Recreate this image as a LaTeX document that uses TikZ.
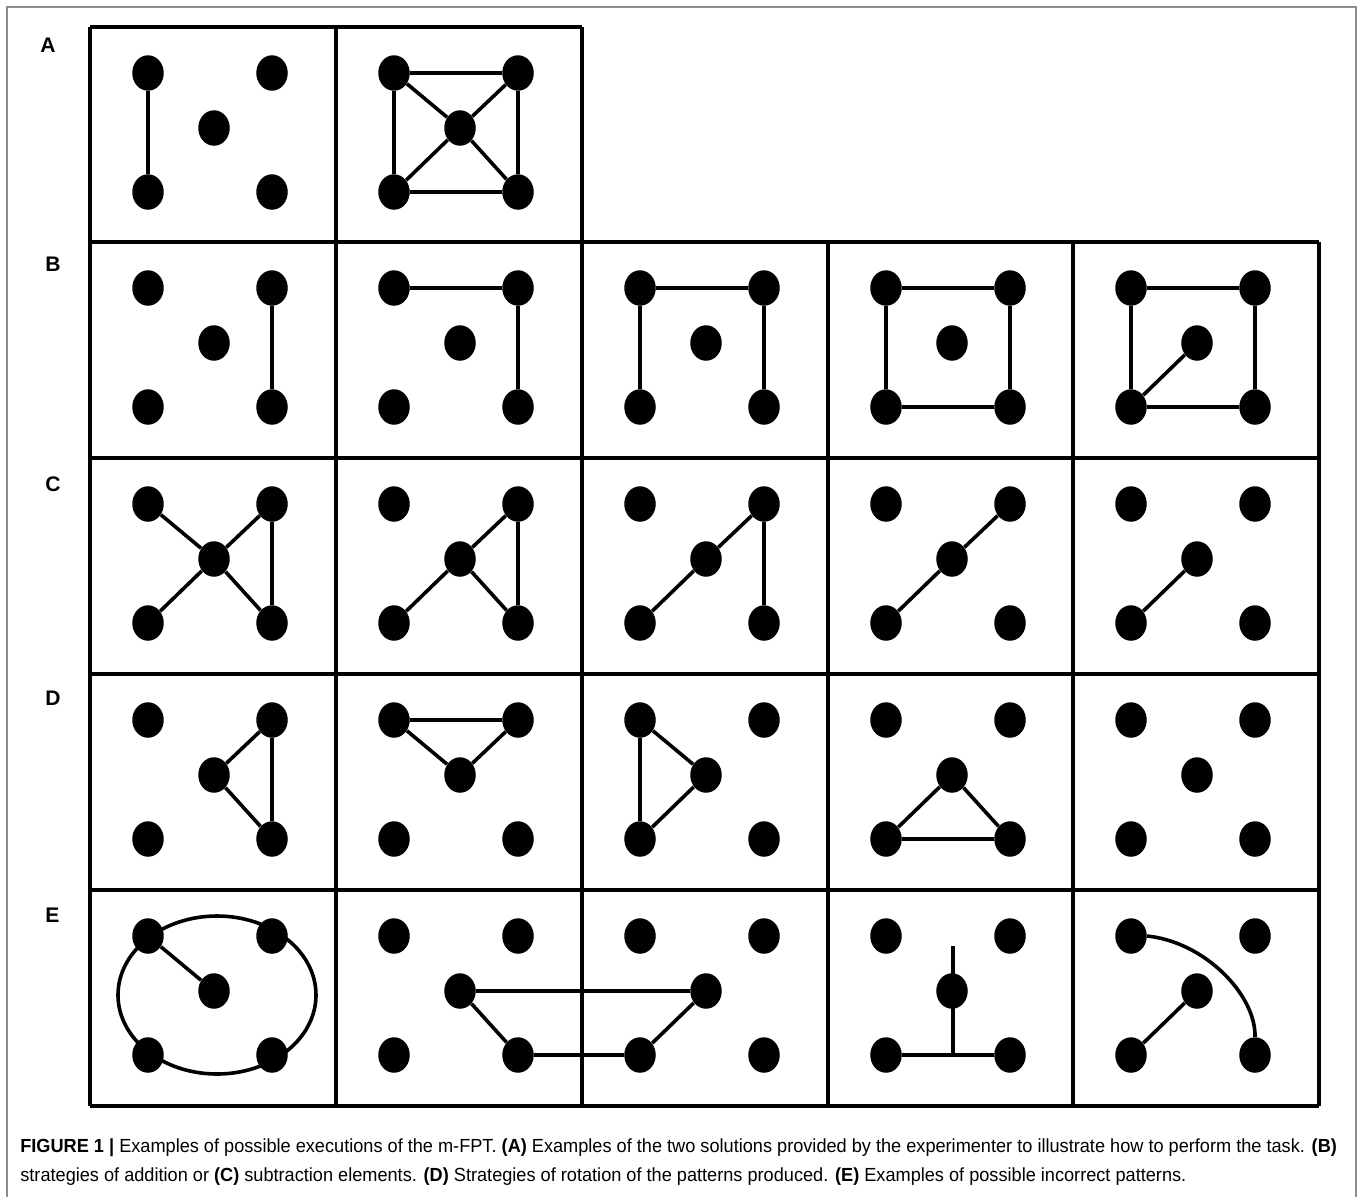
\documentclass[tikz,border=0pt]{standalone}
\usepackage{fontspec}
\setmainfont{Liberation Sans}
\usepackage{graphicx}
\usetikzlibrary{shapes.geometric}
\newsavebox\capbox
\newlength\caplen
\newcommand\capfont{\fontsize{10.8pt}{13pt}\selectfont}
\newcommand\mkcell[3]{%
  \node[dot] (#1tl) at (#2+58,#3+46) {};
  \node[dot] (#1tr) at (#2+182,#3+46) {};
  \node[dot] (#1c)  at (#2+124,#3+101) {};
  \node[dot] (#1bl) at (#2+58,#3+165) {};
  \node[dot] (#1br) at (#2+182,#3+165) {};
}
\begin{document}
\sbox\capbox{\capfont\textbf{FIGURE 1 |} Examples of possible executions of the m-FPT. \textbf{(A)} Examples of the two solutions provided by the experimenter to illustrate how to perform the task. \textbf{(B)}}%
\setlength\caplen{\wd\capbox}%
\pgfmathsetmacro\capsc{749.35/\caplen}%
\begin{tikzpicture}[x=0.02cm,y=-0.02cm,
  dot/.style={ellipse,fill=black,draw=none,inner sep=0pt,minimum width=0.63cm,minimum height=0.71cm},
  grid/.style={line width=0.07cm,black},
  link/.style={line width=0.072cm,black},
  frame/.style={line width=0.04cm,black!45},
  lab/.style={anchor=base west,inner sep=0pt,font=\fontsize{12pt}{14pt}\selectfont\bfseries}]
\useasboundingbox (0,0) rectangle (1358,1197);
% outer frame
\draw[frame] (7,1197) -- (7,7) -- (1356,7) -- (1356,1197);
% grid
\draw[grid] (90,27) -- (582,27);
\foreach \y in {242,458,674,890,1106} \draw[grid] (90,\y) -- (1319,\y);
\foreach \x in {90,336,582} \draw[grid] (\x,27) -- (\x,1106);
\foreach \x in {828,1073,1319} \draw[grid] (\x,242) -- (\x,1106);
% labels
\node[lab] (lA) at (40,52) {A};
\node[lab] (lB) at (45,271) {B};
\node[lab] (lC) at (45,491) {C};
\node[lab] (lD) at (45,705) {D};
\node[lab] (lE) at (45,922) {E};
% dots
\mkcell{A1}{90}{27}
\mkcell{A2}{336}{27}
\foreach \r/\y in {B/242,C/458,D/674,E/890}{
  \foreach \c/\x in {1/90,2/336,3/582,4/828,5/1073}{
    \mkcell{\r\c}{\x}{\y}
  }
}
% row A
\draw[link] (A1tl) -- (A1bl);
\draw[link] (A2tl) -- (A2tr) (A2tl) -- (A2bl) (A2tr) -- (A2br) (A2bl) -- (A2br)
  (A2tl) -- (A2c) -- (A2br) (A2bl) -- (A2c) -- (A2tr);
% row B
\draw[link] (B1tr) -- (B1br);
\draw[link] (B2tl) -- (B2tr) (B2tr) -- (B2br);
\draw[link] (B3tl) -- (B3tr) (B3tl) -- (B3bl) (B3tr) -- (B3br);
\draw[link] (B4tl) -- (B4tr) (B4tr) -- (B4br) (B4br) -- (B4bl) (B4bl) -- (B4tl);
\draw[link] (B5tl) -- (B5tr) (B5tr) -- (B5br) (B5br) -- (B5bl) (B5bl) -- (B5tl) (B5bl) -- (B5c);
% row C
\draw[link] (C1tl) -- (C1c) -- (C1br) (C1bl) -- (C1c) -- (C1tr) (C1tr) -- (C1br);
\draw[link] (C2bl) -- (C2c) -- (C2tr) (C2tr) -- (C2br) (C2c) -- (C2br);
\draw[link] (C3bl) -- (C3c) -- (C3tr) (C3tr) -- (C3br);
\draw[link] (C4bl) -- (C4c) -- (C4tr);
\draw[link] (C5bl) -- (C5c);
% row D
\draw[link] (D1c) -- (D1tr) (D1tr) -- (D1br) (D1br) -- (D1c);
\draw[link] (D2tl) -- (D2tr) (D2tl) -- (D2c) (D2c) -- (D2tr);
\draw[link] (D3tl) -- (D3bl) (D3tl) -- (D3c) (D3c) -- (D3bl);
\draw[link] (D4c) -- (D4bl) (D4c) -- (D4br) (D4bl) -- (D4br);
% row E
\draw[link] (217,995) ellipse [x radius=99, y radius=79];
\draw[link] (E1tl) -- (E1c);
\draw[link] (E2c) -- (E3c) (E2c) -- (E2br) (E2br) -- (E3bl) (E3bl) -- (E3c);
\coordinate (E4top) at (953,946);
\coordinate (E4foot) at (953,1055);
\draw[link] (E4top) -- (E4foot);
\draw[link] (E4bl) -- (E4br);
\draw[link] (E5bl) -- (E5c);
\draw[link] (E5tl.east) .. controls (1205,942) and (1256,995) .. (E5br.north);
% caption
\node[anchor=base west,inner sep=0pt] (cap1) at (20,1152) {\scalebox{\capsc}[1]{\usebox\capbox}};
\node[anchor=base west,inner sep=0pt] (cap2) at (20,1181) {\scalebox{\capsc}[1]{\capfont strategies of addition or \textbf{(C)} subtraction elements. \textbf{(D)} Strategies of rotation of the patterns produced. \textbf{(E)} Examples of possible incorrect patterns.}};
\end{tikzpicture}
\end{document}
